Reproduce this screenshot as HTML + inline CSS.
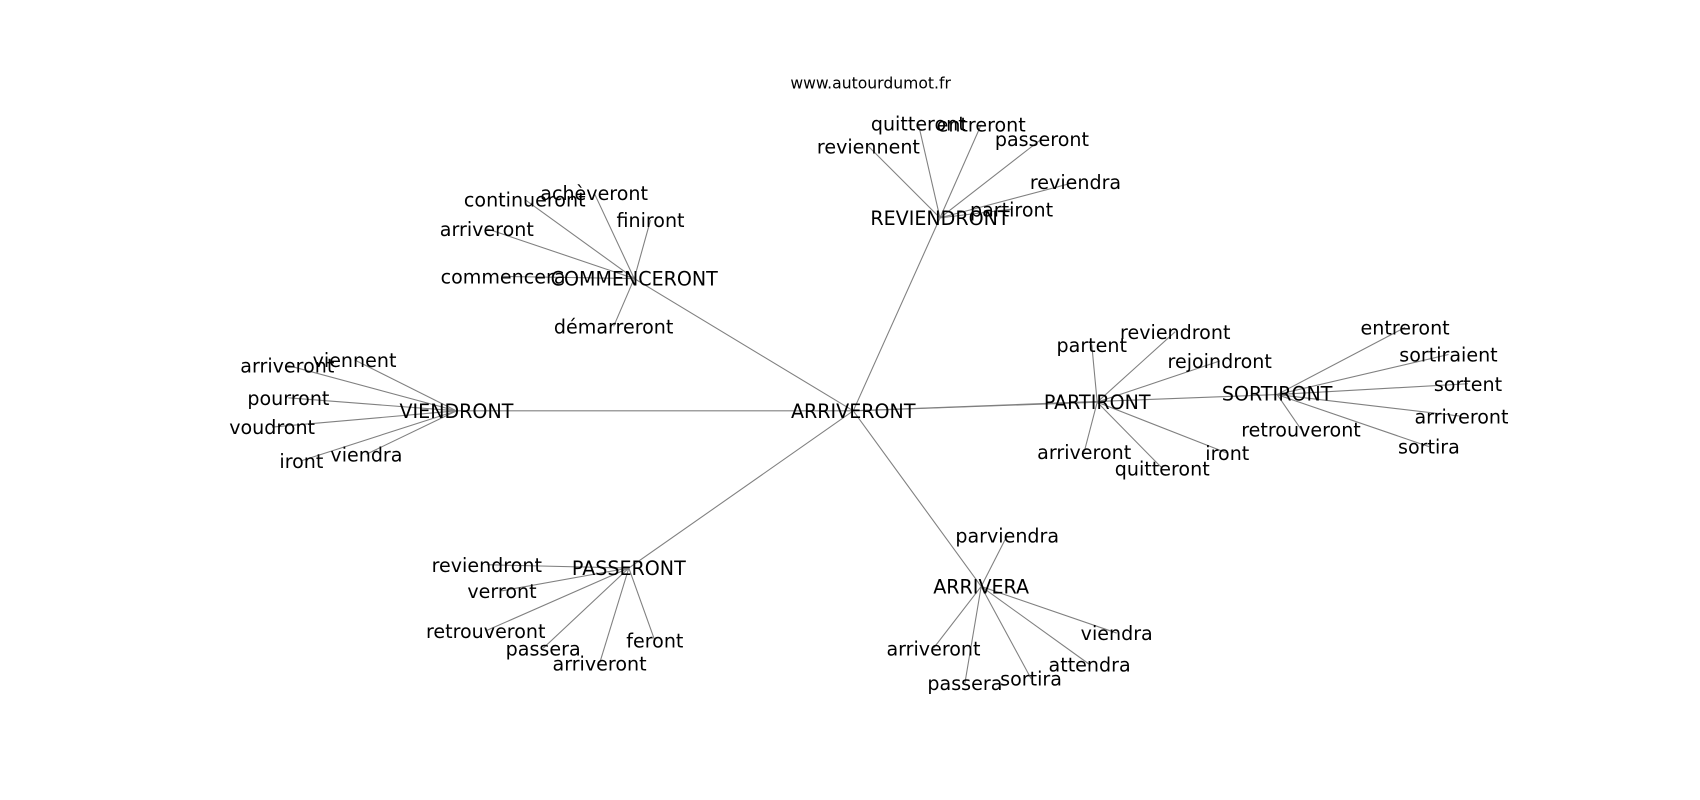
<!DOCTYPE html>
<html><head><meta charset="utf-8"><style>
html,body{margin:0;padding:0;background:#fff;}
svg{display:block;}
text{font-family:"DejaVu Sans","Liberation Sans",sans-serif;font-size:17.6px;fill:#000;text-anchor:middle;dominant-baseline:central;}
line{stroke:#808080;stroke-width:1;}
</style></head><body>
<svg width="1700" height="800" viewBox="0 0 1568 738" preserveAspectRatio="none" xmlns="http://www.w3.org/2000/svg">
<g>
<line x1="787" y1="379" x2="421" y2="379"/>
<line x1="787" y1="379" x2="585" y2="257"/>
<line x1="787" y1="379" x2="867" y2="201"/>
<line x1="787" y1="379" x2="1012" y2="371"/>
<line x1="787" y1="379" x2="1178" y2="364"/>
<line x1="787" y1="379" x2="580" y2="524"/>
<line x1="787" y1="379" x2="905" y2="541"/>
<line x1="421" y1="379" x2="265" y2="337"/>
<line x1="421" y1="379" x2="327" y2="332"/>
<line x1="421" y1="379" x2="266" y2="367"/>
<line x1="421" y1="379" x2="251" y2="394"/>
<line x1="421" y1="379" x2="278" y2="425"/>
<line x1="421" y1="379" x2="338" y2="419"/>
<line x1="585" y1="257" x2="484" y2="184"/>
<line x1="585" y1="257" x2="548" y2="178"/>
<line x1="585" y1="257" x2="600" y2="203"/>
<line x1="585" y1="257" x2="449" y2="211"/>
<line x1="585" y1="257" x2="464" y2="255"/>
<line x1="585" y1="257" x2="566" y2="301"/>
<line x1="867" y1="201" x2="801" y2="135"/>
<line x1="867" y1="201" x2="847" y2="114"/>
<line x1="867" y1="201" x2="905" y2="115"/>
<line x1="867" y1="201" x2="961" y2="128"/>
<line x1="867" y1="201" x2="992" y2="168"/>
<line x1="867" y1="201" x2="933" y2="193"/>
<line x1="1012" y1="371" x2="1007" y2="318"/>
<line x1="1012" y1="371" x2="1084" y2="306"/>
<line x1="1012" y1="371" x2="1125" y2="333"/>
<line x1="1012" y1="371" x2="1000" y2="417"/>
<line x1="1012" y1="371" x2="1072" y2="432"/>
<line x1="1012" y1="371" x2="1132" y2="418"/>
<line x1="1178" y1="364" x2="1296" y2="302"/>
<line x1="1178" y1="364" x2="1336" y2="327"/>
<line x1="1178" y1="364" x2="1354" y2="354"/>
<line x1="1178" y1="364" x2="1348" y2="384"/>
<line x1="1178" y1="364" x2="1318" y2="412"/>
<line x1="1178" y1="364" x2="1200" y2="396"/>
<line x1="580" y1="524" x2="449" y2="521"/>
<line x1="580" y1="524" x2="463" y2="545"/>
<line x1="580" y1="524" x2="448" y2="582"/>
<line x1="580" y1="524" x2="501" y2="598"/>
<line x1="580" y1="524" x2="553" y2="612"/>
<line x1="580" y1="524" x2="604" y2="591"/>
<line x1="905" y1="541" x2="929" y2="494"/>
<line x1="905" y1="541" x2="861" y2="598"/>
<line x1="905" y1="541" x2="890" y2="630"/>
<line x1="905" y1="541" x2="951" y2="626"/>
<line x1="905" y1="541" x2="1005" y2="613"/>
<line x1="905" y1="541" x2="1030" y2="584"/>
</g>
<g transform="translate(0,1)">
<text x="803" y="76" style="font-size:14.4px">www.autourdumot.fr</text>
<text x="787" y="379">ARRIVERONT</text>
<text x="421" y="379">VIENDRONT</text>
<text x="585" y="257">COMMENCERONT</text>
<text x="867" y="201">REVIENDRONT</text>
<text x="1012" y="371">PARTIRONT</text>
<text x="1178" y="363">SORTIRONT</text>
<text x="580" y="524">PASSERONT</text>
<text x="905" y="541">ARRIVERA</text>
<text x="265" y="337">arriveront</text>
<text x="327" y="332">viennent</text>
<text x="266" y="367">pourront</text>
<text x="251" y="394">voudront</text>
<text x="278" y="425">iront</text>
<text x="338" y="419">viendra</text>
<text x="484" y="184">continueront</text>
<text x="548" y="178">achèveront</text>
<text x="600" y="203">finiront</text>
<text x="449" y="211">arriveront</text>
<text x="464" y="255">commencera</text>
<text x="566" y="301">démarreront</text>
<text x="801" y="135">reviennent</text>
<text x="847" y="114">quitteront</text>
<text x="905" y="115">entreront</text>
<text x="961" y="128">passeront</text>
<text x="992" y="168">reviendra</text>
<text x="933" y="193">partiront</text>
<text x="1007" y="318">partent</text>
<text x="1084" y="306">reviendront</text>
<text x="1125" y="333">rejoindront</text>
<text x="1000" y="417">arriveront</text>
<text x="1072" y="432">quitteront</text>
<text x="1132" y="418">iront</text>
<text x="1296" y="302">entreront</text>
<text x="1336" y="327">sortiraient</text>
<text x="1354" y="354">sortent</text>
<text x="1348" y="384">arriveront</text>
<text x="1318" y="412">sortira</text>
<text x="1200" y="396">retrouveront</text>
<text x="449" y="521">reviendront</text>
<text x="463" y="545">verront</text>
<text x="448" y="582">retrouveront</text>
<text x="501" y="598">passera</text>
<text x="553" y="612">arriveront</text>
<text x="604" y="591">feront</text>
<text x="929" y="494">parviendra</text>
<text x="861" y="598">arriveront</text>
<text x="890" y="630">passera</text>
<text x="951" y="626">sortira</text>
<text x="1005" y="613">attendra</text>
<text x="1030" y="584">viendra</text>
</g>
</svg>
</body></html>
